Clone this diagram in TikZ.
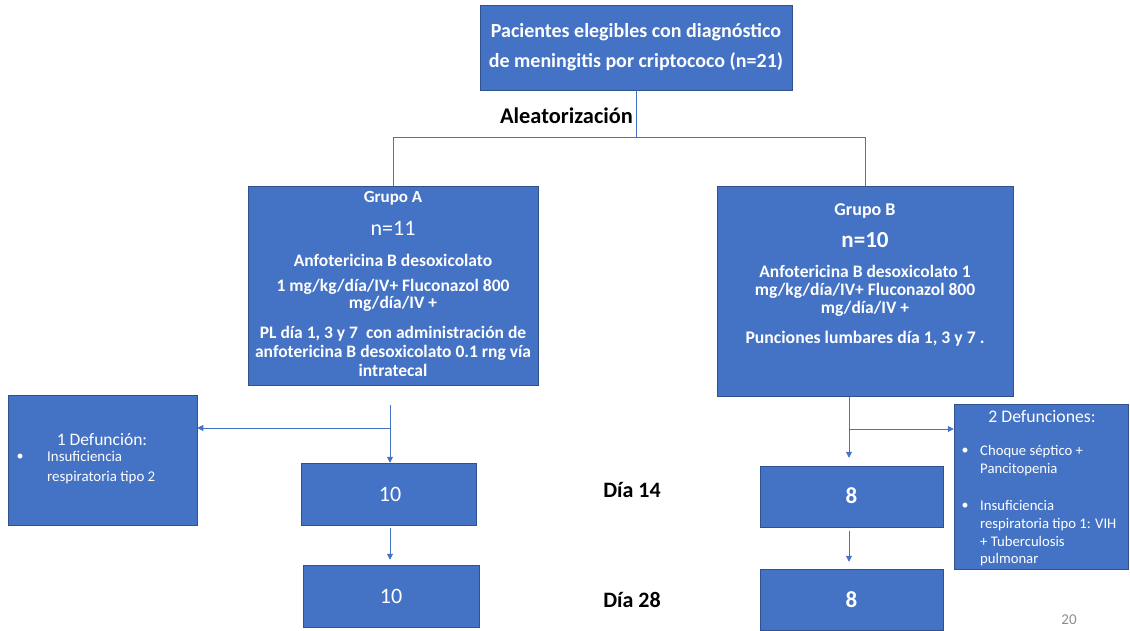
\documentclass[tikz,border=0pt]{standalone}
\usepackage{fontspec}
\setmainfont{Carlito}
\usetikzlibrary{arrows.meta}
\definecolor{boxblue}{HTML}{4472C4}
\definecolor{edgeblue}{HTML}{2F528F}
\definecolor{pagegray}{HTML}{8C8C8C}
\begin{document}
\begin{tikzpicture}[x=1pt,y=-1pt,
  box/.style={draw=edgeblue,line width=0.5pt,fill=boxblue,inner sep=0pt},
  wt/.style={text=white,inner sep=0pt,align=center},
  wl/.style={text=white,inner sep=0pt,anchor=west,align=left},
  bt/.style={text=black,inner sep=0pt,font=\bfseries\fontsize{22}{26}\selectfont},
  conn/.style={draw=boxblue,line width=0.8pt},
  arr/.style={conn,-{Triangle[width=6pt,length=6pt]}}]
\useasboundingbox (0,0) rectangle (1130,630);

% boxes
\node[box,minimum width=312pt,minimum height=85pt] (top) at (636,47.5) {};
\node[box,minimum width=290pt,minimum height=199pt] (ga) at (393,285.5) {};
\node[box,minimum width=296pt,minimum height=210pt] (gb) at (865,291) {};
\node[box,minimum width=189pt,minimum height=130pt] (d1) at (102.5,460) {};
\node[box,minimum width=175pt,minimum height=62pt] (a14) at (388.5,494) {};
\node[box,minimum width=176pt,minimum height=62pt] (a28) at (391,596) {};
\node[box,minimum width=183pt,minimum height=61pt] (b14) at (851.5,496.5) {};
\node[box,minimum width=183pt,minimum height=61pt] (b28) at (851.5,599.5) {};
\node[box,minimum width=174pt,minimum height=165pt] (d2) at (1041,486.5) {};

% top box text
\node[wt,font=\bfseries\fontsize{20}{24}\selectfont] (t1) at (636,32) {Pacientes elegibles con diagnóstico};
\node[wt,font=\bfseries\fontsize{20}{24}\selectfont] (t2) at (636,62) {de meningitis por criptococo (n=21)};
\node[bt,font=\bfseries\fontsize{22.4}{26}\selectfont] (alea) at (566.5,116) {Aleatorización};

% group A text
\node[wt,font=\bfseries\fontsize{17}{20}\selectfont] (ga1) at (393,198) {Grupo A};
\node[wt,font=\fontsize{22}{26}\selectfont] (ga2) at (393,228) {n=11};
\node[wt,font=\bfseries\fontsize{17.5}{20}\selectfont] (ga3) at (393,260) {Anfotericina B desoxicolato};
\node[wt,font=\bfseries\fontsize{17.5}{17}\selectfont] (ga4) at (393,295) {1 mg/kg/día/IV+ Fluconazol 800\\mg/día/IV +};
\node[wt,font=\bfseries\fontsize{17.5}{19}\selectfont] (ga5) at (393,351) {PL día 1, 3 y 7\ \ con administración de\\anfotericina B desoxicolato 0.1 rng vía\\intratecal};

% group B text
\node[wt,font=\bfseries\fontsize{18}{21}\selectfont] (gb1) at (865,211) {Grupo B};
\node[wt,font=\bfseries\fontsize{23}{27}\selectfont] (gb2) at (865,240) {n=10};
\node[wt,font=\bfseries\fontsize{17.5}{18}\selectfont] (gb3) at (865,291) {Anfotericina B desoxicolato 1\\mg/kg/día/IV+ Fluconazol 800\\mg/día/IV +};
\node[wt,font=\bfseries\fontsize{17.7}{20}\selectfont] (gb4) at (865,339) {Punciones lumbares día 1, 3 y 7 .};

% counts
\node[wt,font=\fontsize{22}{26}\selectfont] (na14) at (390,494) {10};
\node[wt,font=\fontsize{22}{26}\selectfont] (na28) at (391,596) {10};
\node[wt,font=\bfseries\fontsize{23}{27}\selectfont] (nb14) at (851.5,496) {8};
\node[wt,font=\bfseries\fontsize{23}{27}\selectfont] (nb28) at (851.5,600) {8};
\node[bt] (dia14) at (632,490) {Día 14};
\node[bt] (dia28) at (632,600) {Día 28};

% deaths A
\node[wt,font=\fontsize{17.5}{20}\selectfont] (d1t) at (102,440) {1 Defunción:};
\node[wt,font=\fontsize{14}{16}\selectfont] (d1b) at (20,457) {•};
\node[wl,font=\fontsize{14.9}{20}\selectfont] (d1x) at (47,468) {Insuficiencia\\respiratoria tipo 2};

% deaths B
\node[wt,font=\fontsize{17.7}{20}\selectfont] (d2t) at (1042,416) {2 Defunciones:};
\node[wt,font=\fontsize{14}{16}\selectfont] (d2b1) at (965,451) {•};
\node[wl,font=\fontsize{14.7}{18}\selectfont] (d2x1) at (980,461) {Choque séptico +\\Pancitopenia};
\node[wt,font=\fontsize{14}{16}\selectfont] (d2b2) at (965,506) {•};
\node[wl,font=\fontsize{14.7}{17.7}\selectfont] (d2x2) at (980,533.5) {Insuficiencia\\respiratoria tipo 1: VIH\\+ Tuberculosis\\pulmonar};

\node[text=pagegray,inner sep=0pt,font=\fontsize{15}{18}\selectfont] (page) at (1069,620) {20};

% connectors
\coordinate (split) at (636,137);
\draw[conn] (top.south) -- (split) -| (ga.north);
\draw[conn] (split) -| (gb.north);

\coordinate (a0) at (390,405);
\coordinate (aj) at (390,428);
\draw[arr] (a0) -- (a0 |- a14.north);
\draw[arr] (aj) -- (aj -| d1.east);
\coordinate (a14bot) at ([yshift=-3pt]a14.south);
\coordinate (a28top) at ([yshift=5pt]a28.north);
\draw[arr] (a14bot -| a0) -- (a28top -| a0);

\coordinate (b0) at (849,397);
\coordinate (bj) at (849,429);
\coordinate (b14top) at ([yshift=8pt]b14.north);
\draw[arr] (b0) -- (b0 |- b14top);
\draw[arr] (bj) -- (bj -| d2.west);
\coordinate (b14bot) at ([yshift=-4pt]b14.south);
\coordinate (b28top) at ([yshift=7pt]b28.north);
\draw[arr] (b14bot -| b0) -- (b28top -| b0);
\end{tikzpicture}
\end{document}
